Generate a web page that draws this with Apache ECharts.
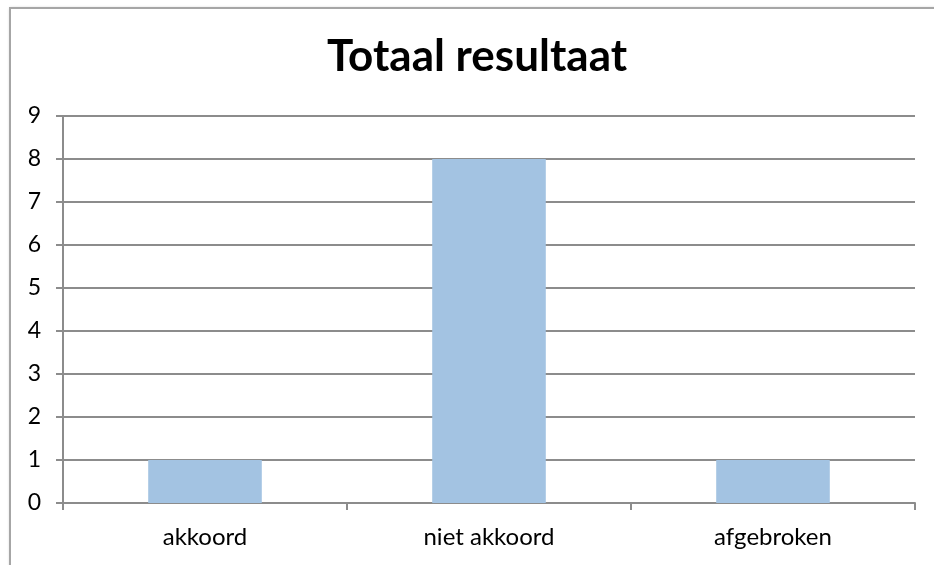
<!DOCTYPE html>
<html>
<head>
<meta charset="utf-8">
<script src="https://cdn.jsdelivr.net/npm/echarts@6/dist/echarts.min.js"></script>
<style>
    html, body { margin: 0; padding: 0; background: #fff; }
    #frame {
        position: absolute; left: 9px; top: 7px; width: 960px; height: 600px;
        border: 2px solid #a6a6a6; box-shadow: 1px 1px 3px rgba(0,0,0,0.25);
    }
    #chart { position: absolute; left: 0; top: 0; width: 934px; height: 565px; }
</style>
</head>
<body>
<div id="frame"></div>
<div id="chart"></div>
<script>
    var categories = ['akkoord', 'niet akkoord', 'afgebroken'];
    var counts = [1, 8, 1];

    var chart = echarts.init(document.getElementById('chart'));
    chart.setOption({
        animation: false,
        title: {
            text: 'Totaal resultaat',
            left: 322,
            top: 30,
            textStyle: { fontFamily: 'Lato', fontWeight: 'bold', fontSize: 44, color: '#000' }
        },
        grid: { left: 63, right: 19, top: 116, bottom: 62 },
        xAxis: {
            type: 'category',
            data: categories,
            axisLine: { lineStyle: { color: '#8c8c8c', width: 2 } },
            axisTick: { show: true, alignWithLabel: false, length: 7, lineStyle: { color: '#8c8c8c', width: 2 } },
            axisLabel: { color: '#000', fontFamily: 'Lato', fontSize: 24, margin: 22 }
        },
        yAxis: {
            type: 'value',
            min: 0, max: 9, interval: 1,
            axisLine: { show: true, lineStyle: { color: '#8c8c8c', width: 2 } },
            axisTick: { show: true, length: 7, lineStyle: { color: '#8c8c8c', width: 2 } },
            axisLabel: { color: '#000', fontFamily: 'Lato', fontSize: 23, margin: 22 },
            splitLine: { lineStyle: { color: '#8c8c8c', width: 2 } }
        },
        series: [{
            type: 'bar',
            data: counts,
            barWidth: '40%',
            itemStyle: { color: '#a3c3e2' }
        }]
    });
</script>
</body>
</html>
